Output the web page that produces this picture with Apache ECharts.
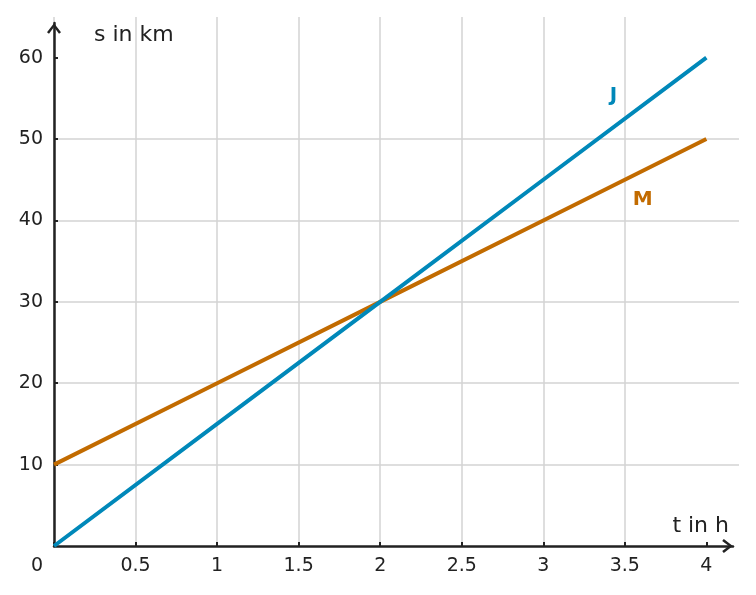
<!DOCTYPE html>
<html lang="de">
<head>
	<meta charset="UTF-8">
	<title>s-t-Diagramm</title>
	<script src="https://cdn.jsdelivr.net/npm/echarts@6/dist/echarts.min.js"></script>
	<style>
		html,body{margin:0;padding:0;background:#fff;}
	</style>
</head>
<body>
	<div id="app" style="width: 756px;height:595px"></div>

	<script>
		// Zeit in h, Weg in km
		var tValues=[0, 1, 2, 3, 4];
		var jValues=[0, 15, 30, 45, 60];
		var mValues=[10, 20, 30, 40, 50];
		var xTicks=[0, 0.5, 1, 1.5, 2, 2.5, 3, 3.5, 4];
		var yTicks=[10, 20, 30, 40, 50, 60];
		var jLabelAt=[3.43, 55.3];
		var mLabelAt=[3.61, 42.5];

		var font='DejaVu Sans';
		var dark='#222';
		var blue='#0088b9';
		var orange='#c26b00';
		// offener Pfeil, zeigt nach oben (wird von ECharts gedreht)
		var arrow='path://M7,0 L14,9 L12,10.6 L7,3.9 L2,10.6 L0,9 Z';

		function pairs(ys){
			return tValues.map(function(t,i){return [t, ys[i]];});
		}

		var myChart=echarts.init(document.getElementById('app'));
		var option={
			animation:false,
			grid:[
				{left:54, right:17, top:17, bottom:49},
				{left:54, right:23, top:23, bottom:49}//nur für die Achsenpfeile
			],
			xAxis:[
				{
					type:'value', min:0, max:4.2, interval:0.5,
					name:'t in h', nameLocation:'end', nameGap:-10,
					nameTextStyle:{fontFamily:font, fontSize:22, color:dark, align:'right', verticalAlign:'bottom', padding:[0,0,9,0]},
					axisLine:{show:false},
					axisTick:{show:true, inside:true, length:4, lineStyle:{color:dark, width:2}, customValues:xTicks},
					axisLabel:{
						fontFamily:font, fontSize:19, color:dark, margin:11, customValues:xTicks,
						formatter:function(v){ return v===0 ? '{z|0}' : String(v); },
						rich:{z:{fontFamily:font, fontSize:19, color:dark, padding:[0,34,0,0]}}
					},
					splitLine:{show:true, showMaxLine:false, lineStyle:{color:'#d3d3d3', width:1.5}}
				},
				{
					gridIndex:1, type:'value', min:0, max:1,
					axisLine:{show:true, symbol:['none', arrow], symbolSize:[14,11], symbolOffset:[0,-5.5], lineStyle:{color:dark, width:2.5}},
					axisTick:{show:false}, axisLabel:{show:false}, splitLine:{show:false}
				}
			],
			yAxis:[
				{
					type:'value', min:0, max:65, interval:10,
					name:'s in km', nameLocation:'end', nameGap:-18,
					nameTextStyle:{fontFamily:font, fontSize:22, color:dark, align:'left', verticalAlign:'middle', padding:[0,0,0,40]},
					axisLine:{show:false},
					axisTick:{show:true, inside:true, length:4, lineStyle:{color:dark, width:2}, customValues:yTicks},
					axisLabel:{fontFamily:font, fontSize:19, color:dark, margin:11, customValues:yTicks},
					splitLine:{show:true, showMinLine:true, showMaxLine:false, lineStyle:{color:'#d3d3d3', width:1.5}}
				},
				{
					gridIndex:1, type:'value', min:0, max:1,
					axisLine:{show:true, symbol:['none', arrow], symbolSize:[14,11], symbolOffset:[0,-5.5], lineStyle:{color:dark, width:2.5}},
					axisTick:{show:false}, axisLabel:{show:false}, splitLine:{show:false}
				}
			],
			series:[
				{
					name:'M', type:'line', data:pairs(mValues),
					showSymbol:false, lineStyle:{color:orange, width:4}, itemStyle:{color:orange},
					markPoint:{
						symbol:'circle', symbolSize:1, itemStyle:{color:'rgba(0,0,0,0)'},
						label:{show:true, position:'inside', formatter:'M', fontFamily:font, fontSize:20, fontWeight:'bold', color:orange},
						data:[{coord:mLabelAt}]
					}
				},
				{
					name:'J', type:'line', data:pairs(jValues),
					showSymbol:false, lineStyle:{color:blue, width:4}, itemStyle:{color:blue},
					markPoint:{
						symbol:'circle', symbolSize:1, itemStyle:{color:'rgba(0,0,0,0)'},
						label:{show:true, position:'inside', formatter:'J', fontFamily:font, fontSize:20, fontWeight:'bold', color:blue},
						data:[{coord:jLabelAt}]
					}
				}
			]
		};
		myChart.setOption(option);
	</script>
</body>
</html>
